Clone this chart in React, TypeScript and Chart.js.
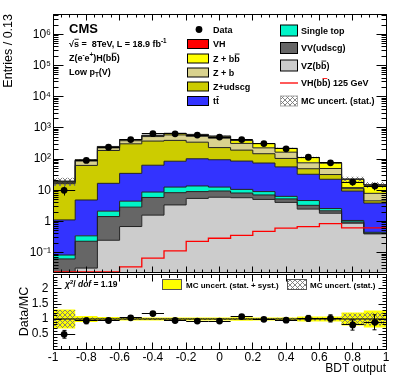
import React, { useEffect, useRef } from "react";
import { Chart, registerables } from "chart.js";

Chart.register(...registerables);

const FONT = '"Liberation Sans", Arial, Helvetica, sans-serif';

// ---------- data ----------
const BIN_EDGES = [-1, -0.8667, -0.7333, -0.6, -0.4667, -0.3333, -0.2, -0.0667, 0.0667, 0.2, 0.3333, 0.4667, 0.6, 0.7333, 0.8667, 1];

// MC components, bottom -> top of the stack
const VZ_BB = [0.012, 0.032, 0.25, 0.69, 1.6, 3.4, 5.5, 6.0, 5.8, 5.1, 4.1, 2.5, 1.84, 0.88, 0.4];
const VV_UDSCG = [0.051, 0.2, 1.19, 2.2, 4.3, 5.0, 3.6, 3.5, 2.4, 2.0, 1.2, 0.8, 0.36, 0.09, 0.02];
const SINGLE_TOP = [0.021, 0.115, 0.71, 1.6, 2.9, 4.3, 4.7, 3.2, 2.5, 2.0, 1.1, 1.4, 0.4, 0.11, 0.03];
const TTBAR = [1.04, 4.55, 14.6, 30.5, 55, 73, 89, 83, 76, 66, 50, 28, 20, 8.4, 3.45];
const Z_UDSCG = [15.2, 58, 173, 275, 316, 314, 247, 139, 108, 74, 49, 16.5, 9.5, 1.8, 0.7];
const Z_B = [1.7, 24, 40, 80, 150, 200, 190, 235, 125, 81, 62, 27, 18, 0.9, 3.4];
const Z_BB = [1.5, 8, 25, 30, 50, 70, 80, 75, 75, 85, 53, 36, 25, 10.3, 6.5];
const SIGNAL_VH = [0.024, 0.024, 0.024, 0.035, 0.067, 0.115, 0.23, 0.29, 0.36, 0.48, 0.61, 0.68, 0.85, 0.62, 0.62];

const DATA = [10, 91, 241, 425, 655, 650, 590, 510, 425, 315, 215, 115, 76, 18.4, 13.7];
const DATA_ERR = [3.2, 9.5, 15.5, 20.6, 25.6, 25.5, 24.3, 22.6, 20.6, 17.7, 14.7, 10.7, 8.7, 4.3, 3.7];

const RATIO = [0.49, 0.94, 0.95, 1.04, 1.18, 0.95, 0.93, 0.93, 1.08, 0.99, 0.96, 1.02, 1.02, 0.8, 0.89];
const RATIO_ERR = [0.13, 0.1, 0.06, 0.05, 0.05, 0.04, 0.04, 0.04, 0.05, 0.06, 0.07, 0.1, 0.12, 0.17, 0.25];
const MC_SYST_REL = [0.32, 0.1, 0.07, 0.05, 0.05, 0.05, 0.05, 0.05, 0.06, 0.05, 0.05, 0.08, 0.08, 0.22, 0.28];
const MC_STAT_REL = [0.3, 0.06, 0.04, 0.03, 0.03, 0.03, 0.03, 0.03, 0.03, 0.03, 0.04, 0.05, 0.05, 0.18, 0.22];

const Y_TICKS_TOP = [0.1, 1, 10, 100, 1e3, 1e4, 1e5, 1e6];
const Y_TICK_LABELS_TOP = ["10⁻¹", "1", "10", "10²", "10³", "10⁴", "10⁵", "10⁶"];
const X_TICKS = [-1, -0.8, -0.6, -0.4, -0.2, 0, 0.2, 0.4, 0.6, 0.8, 1];
const X_TICK_LABELS = ["-1", "-0.8", "-0.6", "-0.4", "-0.2", "0", "0.2", "0.4", "0.6", "0.8", "1"];
const Y_TICKS_RATIO = [0.5, 1, 1.5, 2];
const Y_TICK_LABELS_RATIO = ["0.5", "1", "1.5", "2"];

const COLORS = {
  vh: "#ff0000",
  zbb: "#ffff00",
  zb: "#d9d28e",
  zudscg: "#cccc00",
  tt: "#3333ff",
  st: "#00f5c8",
  vv: "#666666",
  vz: "#cccccc",
};

const STACK = [
  { values: VZ_BB, color: COLORS.vz },
  { values: VV_UDSCG, color: COLORS.vv },
  { values: SINGLE_TOP, color: COLORS.st },
  { values: TTBAR, color: COLORS.tt },
  { values: Z_UDSCG, color: COLORS.zudscg },
  { values: Z_B, color: COLORS.zb },
  { values: Z_BB, color: COLORS.zbb },
  { values: SIGNAL_VH, color: COLORS.vh },
];

type Seg = { t: string; sup?: boolean; sub?: boolean; italic?: boolean; over?: boolean };

const LEGEND_LEFT: { label: Seg[]; kind: string; color?: string }[] = [
  { label: [{ t: "Data" }], kind: "dot" },
  { label: [{ t: "VH" }], kind: "box", color: COLORS.vh },
  { label: [{ t: "Z + b" }, { t: "b", over: true }], kind: "box", color: COLORS.zbb },
  { label: [{ t: "Z + b" }], kind: "box", color: COLORS.zb },
  { label: [{ t: "Z+udscg" }], kind: "box", color: COLORS.zudscg },
  { label: [{ t: "t" }, { t: "t", over: true }], kind: "box", color: COLORS.tt },
];
const LEGEND_RIGHT: { label: Seg[]; kind: string; color?: string }[] = [
  { label: [{ t: "Single top" }], kind: "box", color: COLORS.st },
  { label: [{ t: "VV(udscg)" }], kind: "box", color: COLORS.vv },
  { label: [{ t: "VZ(b" }, { t: "b", over: true }, { t: ")" }], kind: "box", color: COLORS.vz },
  { label: [{ t: "VH(b" }, { t: "b", over: true }, { t: ") 125 GeV" }], kind: "line", color: COLORS.vh },
  { label: [{ t: "MC uncert. (stat.)" }], kind: "hatch" },
];

// ---------- helpers ----------
const binCenter = (i: number) => (BIN_EDGES[i] + BIN_EDGES[i + 1]) / 2;
const stepPoints = (vals: number[]) =>
  BIN_EDGES.map((x, i) => ({ x, y: vals[Math.min(i, vals.length - 1)] }));

function makeHatch(): CanvasPattern | string {
  const c = document.createElement("canvas");
  c.width = 5;
  c.height = 5;
  const g = c.getContext("2d");
  if (!g) return "#999";
  g.strokeStyle = "#777";
  g.lineWidth = 0.9;
  g.beginPath();
  g.moveTo(-1, -1);
  g.lineTo(6, 6);
  g.moveTo(6, -1);
  g.lineTo(-1, 6);
  g.stroke();
  return g.createPattern(c, "repeat") || "#999";
}

function drawRich(ctx: CanvasRenderingContext2D, x: number, y: number, segs: Seg[], size: number, bold = true) {
  let cx = x;
  for (const s of segs) {
    const small = s.sup || s.sub;
    const fs = small ? size * 0.7 : size;
    ctx.font = `${s.italic ? "italic " : ""}${bold ? "bold " : ""}${fs}px ${FONT}`;
    const dy = s.sup ? -size * 0.4 : s.sub ? size * 0.25 : 0;
    ctx.fillText(s.t, cx, y + dy);
    const w = ctx.measureText(s.t).width;
    if (s.over) {
      ctx.save();
      ctx.lineWidth = 0.9;
      ctx.beginPath();
      ctx.moveTo(cx + 0.5, y - size * 0.86);
      ctx.lineTo(cx + w - 0.2, y - size * 0.86);
      ctx.stroke();
      ctx.restore();
    }
    cx += w;
  }
}

function frameTicks(cfg: {
  xMajor: number[]; xMinor: number[]; yMajor: number[]; yMinor: number[];
  xMaj: number; xMin: number; yMaj: number; yMin: number;
}) {
  return {
    id: "frameTicks",
    afterDraw(chart: any) {
      const ctx = chart.ctx as CanvasRenderingContext2D;
      const a = chart.chartArea;
      const xs = chart.scales.x;
      const ys = chart.scales.y;
      const L = Math.floor(a.left) + 0.5;
      const R = Math.floor(a.right) + 0.5;
      const T = Math.floor(a.top) + 0.5;
      const B = Math.floor(a.bottom) + 0.5;
      ctx.save();
      ctx.strokeStyle = "#000";
      ctx.lineWidth = 1;
      ctx.beginPath();
      ctx.rect(L, T, R - L, B - T);
      const xt = (vals: number[], len: number) => {
        for (const v of vals) {
          const p = xs.getPixelForValue(v);
          if (p < a.left - 0.5 || p > a.right + 0.5) continue;
          const px = Math.floor(p) + 0.5;
          ctx.moveTo(px, T); ctx.lineTo(px, T + len);
          ctx.moveTo(px, B); ctx.lineTo(px, B - len);
        }
      };
      const yt = (vals: number[], len: number) => {
        for (const v of vals) {
          const p = ys.getPixelForValue(v);
          if (p < a.top - 0.5 || p > a.bottom + 0.5) continue;
          const py = Math.floor(p) + 0.5;
          ctx.moveTo(L, py); ctx.lineTo(L + len, py);
          ctx.moveTo(R, py); ctx.lineTo(R - len, py);
        }
      };
      xt(cfg.xMajor, cfg.xMaj);
      xt(cfg.xMinor, cfg.xMin);
      yt(cfg.yMajor, cfg.yMaj);
      yt(cfg.yMinor, cfg.yMin);
      ctx.stroke();
      ctx.restore();
    },
  };
}

const errorBars = {
  id: "errorBars",
  beforeDatasetDraw(chart: any, args: any) {
    const ds = chart.data.datasets[args.index];
    if (!ds.errY) return;
    const ctx = chart.ctx as CanvasRenderingContext2D;
    const a = chart.chartArea;
    const xs = chart.scales.x;
    const ys = chart.scales.y;
    ctx.save();
    ctx.beginPath();
    ctx.rect(a.left, a.top, a.right - a.left, a.bottom - a.top);
    ctx.clip();
    ctx.strokeStyle = "#000";
    ctx.lineWidth = 1;
    ctx.beginPath();
    ds.data.forEach((pt: any, i: number) => {
      const x = Math.floor(xs.getPixelForValue(pt.x)) + 0.5;
      const y = Math.floor(ys.getPixelForValue(pt.y)) + 0.5;
      const x0 = xs.getPixelForValue(BIN_EDGES[i]);
      const x1 = xs.getPixelForValue(BIN_EDGES[i + 1]);
      const yl = ys.getPixelForValue(pt.y - ds.errY[i]);
      const yh = ys.getPixelForValue(pt.y + ds.errY[i]);
      ctx.moveTo(x0, y); ctx.lineTo(x1, y);
      ctx.moveTo(x, yl); ctx.lineTo(x, yh);
      if (ds.caps) {
        ctx.moveTo(x - 2, yl); ctx.lineTo(x + 2, yl);
        ctx.moveTo(x - 2, yh); ctx.lineTo(x + 2, yh);
      }
    });
    ctx.stroke();
    ctx.restore();
  },
};

function range(from: number, to: number, step: number) {
  const out: number[] = [];
  for (let v = from; v <= to + 1e-9; v += step) out.push(Math.round(v * 1000) / 1000);
  return out;
}

const X_MINOR = range(-1, 1, 0.05);
const LOG_MINOR: number[] = [];
for (let d = -2; d <= 6; d++) for (let k = 2; k <= 9; k++) LOG_MINOR.push(k * Math.pow(10, d));

const noPad = (s: any) => {
  s.paddingTop = 0;
  s.paddingBottom = 0;
  s.paddingLeft = 0;
  s.paddingRight = 0;
};

// ---------- charts ----------
function topConfig(hatch: any): any {
  const cum: number[][] = [];
  STACK.forEach((layer, li) => {
    cum.push(layer.values.map((v, i) => v + (li > 0 ? cum[li - 1][i] : 0)));
  });
  const total = cum[cum.length - 1];
  const datasets: any[] = STACK.map((layer, li) => ({
    data: stepPoints(cum[li]),
    stepped: "before",
    fill: li === 0 ? "start" : "-1",
    backgroundColor: layer.color,
    borderColor: "#222",
    borderWidth: 1,
    pointRadius: 0,
    order: 10,
  }));
  datasets.push({
    data: stepPoints(total.map((t, i) => t * (1 - MC_STAT_REL[i]))),
    stepped: "before", fill: false, borderColor: "rgba(0,0,0,0)", borderWidth: 1, pointRadius: 0, order: 3,
  });
  datasets.push({
    data: stepPoints(total.map((t, i) => t * (1 + MC_STAT_REL[i]))),
    stepped: "before", fill: "-1", backgroundColor: hatch, borderColor: "rgba(0,0,0,0)", borderWidth: 1, pointRadius: 0, order: 3,
  });
  datasets.push({
    data: stepPoints(SIGNAL_VH),
    stepped: "before", fill: false, borderColor: COLORS.vh, borderWidth: 1.3, pointRadius: 0, order: 1,
  });
  datasets.push({
    data: DATA.map((v, i) => ({ x: binCenter(i), y: v })),
    errY: DATA_ERR,
    showLine: false, pointRadius: 3.4, pointBackgroundColor: "#000", pointBorderWidth: 0, order: 0,
  });

  const legendPlugin = {
    id: "legendTop",
    afterDraw(chart: any) {
      const ctx = chart.ctx as CanvasRenderingContext2D;
      ctx.save();
      ctx.fillStyle = "#000";
      ctx.strokeStyle = "#000";
      ctx.textBaseline = "alphabetic";
      // CMS labels
      drawRich(ctx, 69, 33, [{ t: "CMS" }], 13);
      drawRich(ctx, 69, 47, [{ t: "√" }, { t: "s", over: true }, { t: " =  8TeV, L = 18.9 fb" }, { t: "-1", sup: true }], 9);
      drawRich(ctx, 69, 61, [{ t: "Z(e" }, { t: "-", sup: true }, { t: "e" }, { t: "+", sup: true }, { t: ")H(b" }, { t: "b", over: true }, { t: ")" }], 9);
      drawRich(ctx, 69, 75, [{ t: "Low p" }, { t: "T", sub: true }, { t: "(V)" }], 9);
      // left column
      const rowsL = [29.5, 44, 58.5, 72.5, 86.5, 101];
      LEGEND_LEFT.forEach((e, i) => {
        const cy = rowsL[i];
        if (e.kind === "dot") {
          ctx.beginPath();
          ctx.arc(199, cy, 3.4, 0, Math.PI * 2);
          ctx.fillStyle = "#000";
          ctx.fill();
        } else {
          ctx.fillStyle = e.color as string;
          ctx.fillRect(187.5, cy - 4.5, 21, 9);
          ctx.lineWidth = 1;
          ctx.strokeStyle = "#000";
          ctx.strokeRect(187.5, cy - 4.5, 21, 9);
        }
        ctx.fillStyle = "#000";
        drawRich(ctx, 213, cy + 3.3, e.label, 9);
      });
      const rowsR = [30.5, 48, 65.5, 83, 101];
      LEGEND_RIGHT.forEach((e, i) => {
        const cy = rowsR[i];
        if (e.kind === "box") {
          ctx.fillStyle = e.color as string;
          ctx.fillRect(280.5, cy - 5.5, 17, 11);
          ctx.strokeStyle = "#000";
          ctx.lineWidth = 1;
          ctx.strokeRect(280.5, cy - 5.5, 17, 11);
        } else if (e.kind === "line") {
          ctx.strokeStyle = e.color as string;
          ctx.lineWidth = 1.3;
          ctx.beginPath();
          ctx.moveTo(280, cy);
          ctx.lineTo(298, cy);
          ctx.stroke();
        } else {
          ctx.fillStyle = hatch;
          ctx.fillRect(280.5, cy - 5, 17, 10);
          ctx.strokeStyle = "#aaa";
          ctx.lineWidth = 1;
          ctx.strokeRect(280.5, cy - 5, 17, 10);
        }
        ctx.fillStyle = "#000";
        drawRich(ctx, 301, cy + 3.3, e.label, 9);
      });
      ctx.restore();
    },
  };

  return {
    type: "line",
    data: { datasets },
    options: {
      animation: false,
      responsive: false,
      devicePixelRatio: 1,
      layout: { padding: { top: 14, right: 21, bottom: 3, left: 0 } },
      plugins: {
        legend: { display: false },
        tooltip: { enabled: false },
        filler: { drawTime: "beforeDatasetsDraw", propagate: false },
      },
      scales: {
        x: { type: "linear", min: -1, max: 1, display: false },
        y: {
          type: "logarithmic",
          min: 0.024,
          max: 4.52e6,
          afterFit: (s: any) => { s.width = 53; noPad(s); },
          afterBuildTicks: (s: any) => { s.ticks = Y_TICKS_TOP.map((v) => ({ value: v })); },
          ticks: {
            callback: (_v: any, i: number) => Y_TICK_LABELS_TOP[i],
            padding: 2,
            color: "#000",
            font: { family: FONT, size: 12 },
            autoSkip: false,
          },
          grid: { display: false, drawTicks: false },
          border: { display: false },
          title: {
            display: true,
            text: "Entries / 0.13",
            align: "end",
            color: "#000",
            font: { family: FONT, size: 12.5 },
            padding: { top: 1, bottom: 0 },
          },
        },
      },
    },
    plugins: [
      errorBars,
      legendPlugin,
      frameTicks({ xMajor: X_TICKS, xMinor: X_MINOR, yMajor: Y_TICKS_TOP, yMinor: LOG_MINOR, xMaj: 6, xMin: 3, yMaj: 10, yMin: 5 }),
    ],
  };
}

function bottomConfig(hatch: any): any {
  const datasets: any[] = [
    { data: stepPoints(MC_SYST_REL.map((e) => 1 - e)), stepped: "before", fill: false, borderColor: "rgba(0,0,0,0)", pointRadius: 0, order: 5 },
    { data: stepPoints(MC_SYST_REL.map((e) => 1 + e)), stepped: "before", fill: "-1", backgroundColor: "#ffff00", borderColor: "rgba(0,0,0,0)", pointRadius: 0, order: 5 },
    { data: stepPoints(MC_STAT_REL.map((e) => 1 - e)), stepped: "before", fill: false, borderColor: "rgba(0,0,0,0)", pointRadius: 0, order: 4 },
    { data: stepPoints(MC_STAT_REL.map((e) => 1 + e)), stepped: "before", fill: "-1", backgroundColor: hatch, borderColor: "rgba(0,0,0,0)", pointRadius: 0, order: 4 },
    { data: [{ x: -1, y: 1 }, { x: 1, y: 1 }], fill: false, borderColor: "#000", borderWidth: 1, pointRadius: 0, order: 1 },
    {
      data: RATIO.map((v, i) => ({ x: binCenter(i), y: v })),
      errY: RATIO_ERR,
      caps: true,
      showLine: false, pointRadius: 3.4, pointBackgroundColor: "#000", pointBorderWidth: 0, order: 0,
    },
  ];

  const legendPlugin = {
    id: "legendBottom",
    afterDraw(chart: any) {
      const ctx = chart.ctx as CanvasRenderingContext2D;
      const off = 270; // canvas top in page coordinates
      ctx.save();
      ctx.fillStyle = "#000";
      ctx.textBaseline = "alphabetic";
      drawRich(ctx, 65, 287 - off, [{ t: "χ", italic: true }, { t: "2", sup: true }, { t: "/ " }, { t: "dof", italic: true }, { t: " = 1.19" }], 8.5);
      ctx.fillStyle = "#ffff00";
      ctx.fillRect(162.5, 279.5 - off, 19, 10);
      ctx.strokeStyle = "#555";
      ctx.lineWidth = 1;
      ctx.strokeRect(162.5, 279.5 - off, 19, 10);
      ctx.fillStyle = "#000";
      drawRich(ctx, 186, 287.5 - off, [{ t: "MC uncert. (stat. + syst.)" }], 8);
      ctx.fillStyle = hatch;
      ctx.fillRect(287.5, 279.5 - off, 19, 10);
      ctx.strokeStyle = "#555";
      ctx.strokeRect(287.5, 279.5 - off, 19, 10);
      ctx.fillStyle = "#000";
      drawRich(ctx, 310, 287.5 - off, [{ t: "MC uncert. (stat.)" }], 8);
      ctx.restore();
    },
  };

  return {
    type: "line",
    data: { datasets },
    options: {
      animation: false,
      responsive: false,
      devicePixelRatio: 1,
      layout: { padding: { top: 3, right: 21, bottom: 0, left: 0 } },
      plugins: {
        legend: { display: false },
        tooltip: { enabled: false },
        filler: { drawTime: "beforeDatasetsDraw", propagate: false },
      },
      scales: {
        x: {
          type: "linear",
          min: -1,
          max: 1,
          afterFit: (s: any) => { s.height = 42; noPad(s); },
          afterBuildTicks: (s: any) => { s.ticks = X_TICKS.map((v) => ({ value: v })); },
          ticks: {
            callback: (_v: any, i: number) => X_TICK_LABELS[i],
            padding: 1,
            color: "#000",
            font: { family: FONT, size: 12 },
            autoSkip: false,
            maxRotation: 0,
          },
          grid: { display: false, drawTicks: false },
          border: { display: false },
          title: {
            display: true,
            text: "BDT output",
            align: "end",
            color: "#000",
            font: { family: FONT, size: 12 },
            padding: { top: 0, bottom: 15 },
          },
        },
        y: {
          type: "linear",
          min: 0,
          max: 2.5,
          afterFit: (s: any) => { s.width = 53; noPad(s); },
          afterBuildTicks: (s: any) => { s.ticks = Y_TICKS_RATIO.map((v) => ({ value: v })); },
          ticks: {
            callback: (_v: any, i: number) => Y_TICK_LABELS_RATIO[i],
            padding: 4.5,
            color: "#000",
            font: { family: FONT, size: 12 },
            autoSkip: false,
          },
          grid: { display: false, drawTicks: false },
          border: { display: false },
          title: {
            display: true,
            text: "Data/MC",
            align: "center",
            color: "#000",
            font: { family: FONT, size: 12.5 },
            padding: { top: 17, bottom: 0 },
          },
        },
      },
    },
    plugins: [
      errorBars,
      legendPlugin,
      frameTicks({
        xMajor: X_TICKS, xMinor: X_MINOR,
        yMajor: range(0, 2.5, 0.5), yMinor: range(0, 2.5, 0.1),
        xMaj: 7, xMin: 3.5, yMaj: 8, yMin: 4,
      }),
    ],
  };
}

export default function App() {
  const topRef = useRef<HTMLCanvasElement>(null);
  const botRef = useRef<HTMLCanvasElement>(null);
  useEffect(() => {
    const hatch = makeHatch();
    const c1 = new Chart(topRef.current as HTMLCanvasElement, topConfig(hatch));
    const c2 = new Chart(botRef.current as HTMLCanvasElement, bottomConfig(hatch));
    return () => {
      c1.destroy();
      c2.destroy();
    };
  }, []);
  return (
    <div style={{ position: "fixed", left: 0, top: 0, width: 407, height: 391, background: "#fff" }}>
      <canvas ref={topRef} width={407} height={276} style={{ position: "absolute", left: 0, top: 0 }} />
      <canvas ref={botRef} width={407} height={121} style={{ position: "absolute", left: 0, top: 270 }} />
    </div>
  );
}
